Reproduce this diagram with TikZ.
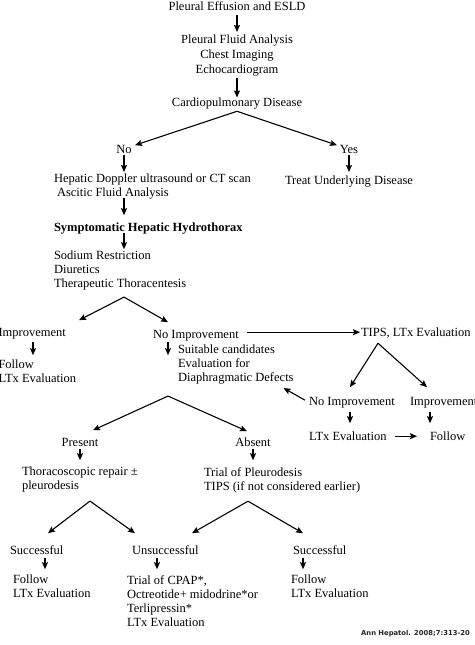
\documentclass[tikz,border=0pt]{standalone}
\usepackage{fontspec}
\setmainfont{Liberation Serif}
\newfontfamily\citefont{DejaVu Sans}
\usetikzlibrary{arrows.meta,calc}
\tikzset{
  txt/.style={inner sep=0pt, outer sep=0pt, align=left, font=\fontsize{12.5}{14}\selectfont,
    execute at begin node=\strut, execute at end node=\strut},
  ctxt/.style={txt, align=center},
  arr/.style={line width=1.1pt, -{Stealth[length=7pt,width=6pt,inset=1.2pt]}},
}
\begin{document}
\begin{tikzpicture}[x=1pt,y=-1pt]
\useasboundingbox (0,0) rectangle (474,645);
\fill[white] (0,0) rectangle (474,645);
\clip (0,0) rectangle (474,645);

% ---------- nodes ----------
\node[ctxt, anchor=north] (n1) at (237,0.2) {Pleural Effusion and ESLD};
\node[ctxt, anchor=north, font=\fontsize{12.5}{15}\selectfont] (n2) at (237,34.5)
  {Pleural Fluid Analysis\\Chest Imaging\\Echocardiogram};
\node[ctxt, anchor=north] (cp) at (237,96.5) {Cardiopulmonary Disease};
\node[ctxt, anchor=north] (no) at (124,143.2) {No};
\node[ctxt, anchor=north] (yes) at (349,143.2) {Yes};
\node[txt, anchor=north west] (hep) at (54,174.2)
  {Hepatic Doppler ultrasound or CT scan\\\hspace*{3pt}Ascitic Fluid Analysis};
\node[txt, anchor=north west] (treat) at (285,174.2) {Treat Underlying Disease};
\node[txt, anchor=north west] (sym) at (54,221.2) {\bfseries Symptomatic Hepatic Hydrothorax};
\node[txt, anchor=north west] (sod) at (54,251.2)
  {Sodium Restriction\\Diuretics\\Therapeutic Thoracentesis};
\node[txt, anchor=north west] (imp) at (-1.5,326.2) {Improvement};
\node[txt, anchor=north west] (impf) at (-1.5,360.2) {Follow\\LTx Evaluation};
\node[txt, anchor=north west] (noimp) at (153,328.2) {No Improvement};
\node[txt, anchor=north west] (tips) at (361,326.2) {TIPS, LTx Evaluation};
\node[txt, anchor=north west] (suit) at (178,345.2)
  {Suitable candidates\\Evaluation for\\Diaphragmatic Defects};
\node[txt, anchor=north west] (rnoimp) at (309,395.2) {No Improvement};
\node[txt, anchor=north west] (rimp) at (410,395.2) {Improvement};
\node[txt, anchor=north west] (rltx) at (309,430.2) {LTx Evaluation};
\node[txt, anchor=north west] (rfol) at (430,430.2) {Follow};
\node[ctxt, anchor=north] (pres) at (80,436.2) {Present};
\node[ctxt, anchor=north] (abs) at (253,436.2) {Absent};
\node[txt, anchor=north west] (thor) at (22,467.2) {Thoracoscopic repair ±\\pleurodesis};
\node[txt, anchor=north west] (trial) at (204,467.2)
  {Trial of Pleurodesis\\TIPS (if not considered earlier)};
\node[txt, anchor=north west] (succa) at (10,544.2) {Successful};
\node[txt, anchor=north west] (unsucc) at (132,544.2) {Unsuccessful};
\node[txt, anchor=north west] (succb) at (293,544.2) {Successful};
\node[txt, anchor=north west] (fola) at (13,575.2) {Follow\\LTx Evaluation};
\node[txt, anchor=north west] (cpap) at (127,575.2)
  {Trial of CPAP*,\\Octreotide+ midodrine*or\\Terlipressin*\\LTx Evaluation};
\node[txt, anchor=north west] (folb) at (291,575.2) {Follow\\LTx Evaluation};
\node[inner sep=0pt, anchor=east, text=black!85, font=\citefont\bfseries\fontsize{6.8}{8}\selectfont] (cite) at (470,634)
  {Ann Hepatol. 2008;7:313-20};

% ---------- connectors ----------
\draw[arr] ($(n1.south)+(0,1)$) -- ($(n2.north)+(0,-2.5)$);
\draw[arr] ($(n2.south)+(0,0.5)$) -- ($(cp.north)+(0,1)$);
\draw[arr] ($(cp.south)+(0,0.8)$) -- ($(no.north)+(11,2)$);
\draw[arr] ($(cp.south)+(0,0.8)$) -- ($(yes.north)+(-12,2)$);
\draw[arr] ($(no.south)+(0,-2)$) -- ($(124,0 |- hep.north)+(0,-2.2)$);
\draw[arr] ($(yes.south)+(0,-2)$) -- ($(349,0 |- treat.north)+(0,-2.2)$);
\draw[arr] ($(124,0 |- hep.south)+(0,-3)$) -- ($(124,0 |- sym.north)+(0,-6)$);
\draw[arr] ($(124,0 |- sym.south)+(0,-2)$) -- ($(124,0 |- sod.north)+(0,-2)$);
\draw[arr] ($(124,0 |- sod.south)+(0,5)$) -- ($(79,0 |- imp.north)+(0,-6)$);
\draw[arr] ($(124,0 |- sod.south)+(0,5)$) -- ($(168,0 |- noimp.north)+(0,-6)$);
\draw[arr] ($(33,0 |- imp.south)+(0,2)$) -- ($(33,0 |- impf.north)+(0,-5)$);
\draw[arr] ($(168,0 |- noimp.south)+(0,0)$) -- ($(168,0 |- suit.north)+(0,10)$);
\draw[arr] ($(noimp.east |- tips.west)+(8,-1)$) -- ($(tips.west)+(-1,-1)$);
\draw[arr] ($(378,0 |- tips.south)+(0,3)$) -- ($(350,0 |- rnoimp.north)+(0,-8)$);
\draw[arr] ($(378,0 |- tips.south)+(0,3)$) -- ($(427,0 |- rimp.north)+(0,-8)$);
\draw[arr] ($(rnoimp.west)+(-4,-2)$) -- ($(suit.south east)+(-10,2)$);
\draw[arr] ($(350,0 |- rnoimp.south)+(0,3)$) -- ($(350,0 |- rltx.north)+(0,-7)$);
\draw[arr] ($(430,0 |- rimp.south)+(0,3)$) -- ($(430,0 |- rfol.north)+(0,-7)$);
\draw[arr] ($(rltx.east)+(8,-1)$) -- ($(rfol.west)+(-13,-1)$);
\draw[arr] ($(168,0 |- suit.south)+(0,10)$) -- ($(pres.north)+(13,-6)$);
\draw[arr] ($(168,0 |- suit.south)+(0,10)$) -- ($(abs.north)+(-6,-5)$);
\draw[arr] ($(pres.south)+(0,-1)$) -- ($(80,0 |- thor.north)+(0,-7)$);
\draw[arr] ($(abs.south)+(0,-1)$) -- ($(253,0 |- trial.north)+(0,-7)$);
\draw[arr] ($(90,0 |- thor.south)+(0,7)$) -- ($(48,0 |- succa.north)+(0,-11)$);
\draw[arr] ($(90,0 |- thor.south)+(0,7)$) -- ($(135,0 |- unsucc.north)+(0,-11)$);
\draw[arr] ($(248,0 |- trial.south)+(0,7)$) -- ($(192,0 |- unsucc.north)+(0,-11)$);
\draw[arr] ($(248,0 |- trial.south)+(0,7)$) -- ($(303,0 |- succb.north)+(0,-11)$);
\draw[arr] ($(45,0 |- succa.south)+(0,0)$) -- ($(45,0 |- fola.north)+(0,-6)$);
\draw[arr] ($(157,0 |- unsucc.south)+(0,0)$) -- ($(157,0 |- cpap.north)+(0,-6)$);
\draw[arr] ($(303,0 |- succb.south)+(0,0)$) -- ($(303,0 |- folb.north)+(0,-6)$);
\end{tikzpicture}
\end{document}
